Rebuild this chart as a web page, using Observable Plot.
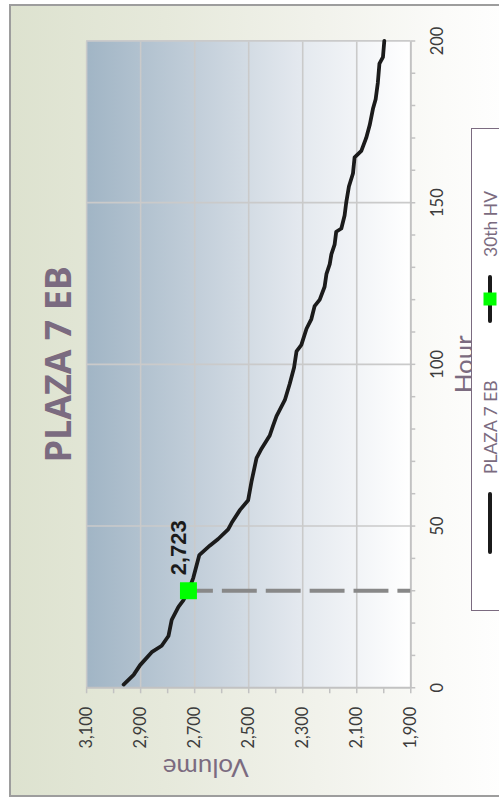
<!DOCTYPE html>
<html>
<head>
<meta charset="utf-8">
<script src="https://cdn.jsdelivr.net/npm/d3@7"></script>
<script src="https://cdn.jsdelivr.net/npm/@observablehq/plot@0.6"></script>
<style>
html,body{margin:0;padding:0;width:499px;height:799px;overflow:hidden;background:#fff;}
#chart{position:absolute;left:9px;top:797px;width:793px;height:515px;box-sizing:border-box;border:2px solid #9d9d9d;
  transform-origin:0 0;transform:rotate(-90deg);
  background:linear-gradient(to bottom,#dde2cf 0%,#e6e9db 30%,#f1f2eb 60%,#fbfbf9 85%,#ffffff 100%);
  font-family:Lato,sans-serif;overflow:hidden;}
#plot{position:absolute;left:-2px;top:-2px;}
#legend{position:absolute;left:184px;top:460px;width:483px;height:80px;box-sizing:border-box;border:1.5px solid #7b6b80;background:#fff;}
.item{position:absolute;top:8px;height:20px;display:flex;align-items:center;font-family:Lato,sans-serif;font-size:17.5px;color:#7b6b80;white-space:nowrap;}
</style>
</head>
<body>
<div id="chart"><div id="plot"></div><div id="legend"></div></div>
<script>
// ---- data ----
const title = "PLAZA 7 EB";
const seriesName = "PLAZA 7 EB";
const markerName = "30th HV";
const xLabel = "Hour";
const yLabel = "Volume";
const hours = [1,4,7,11,13,16,21,25,27,30,34,41,44,46,49,51,55,58,64,71,74,78,81,84,89,94,99,104,106,111,114,118,120,124,128,131,134,137,141,142,146,150,155,159,164,166,170,174,179,182,187,193,195,200];
const volumes = [2963,2926,2902,2859,2822,2797,2785,2760,2742,2723,2705,2683,2643,2613,2576,2563,2532,2502,2489,2471,2452,2422,2410,2397,2366,2348,2332,2323,2305,2286,2268,2256,2237,2219,2212,2200,2194,2182,2176,2157,2145,2139,2129,2114,2108,2083,2065,2052,2040,2030,2022,2016,2003,1998];
const hvHour = [30];
const hvVolume = [2723];
const hourDomain = [0, 200];
const volumeDomain = [1900, 3100];
const hourLabelTicks = [0, 50, 100, 150, 200];
const hourGridTicks = [50, 100, 150, 200];
const hourMinorTicks = [0,10,20,30,40,50,60,70,80,90,100,110,120,130,140,150,160,170,180,190,200];
const volumeLabelTicks = [1900, 2100, 2300, 2500, 2700, 2900, 3100];
const volumeMinorTicks = [1900,2000,2100,2200,2300,2400,2500,2600,2700,2800,2900,3000,3100];

const data = hours.map((h, i) => ({hour: h, volume: volumes[i]}));
const hv = hvHour.map((h, i) => ({hour: h, volume: hvVolume[i]}));
const fmt = d3.format(",");

const axisColor = "#c2c2c2";
const gridColor = "#cacaca";
const labelColor = "#7b6b80";
const tickText = "#3c3c3c";

const plot = Plot.plot({
  width: 793,
  height: 515,
  marginLeft: 109,
  marginRight: 35.5,
  marginTop: 77.3,
  marginBottom: 112.7,
  style: {background: "transparent", fontFamily: "Lato, sans-serif", overflow: "visible"},
  x: {domain: hourDomain},
  y: {domain: volumeDomain},
  marks: [
    Plot.frame({fill: "url(#plotGrad)", stroke: null}),
    Plot.gridY({ticks: volumeLabelTicks, stroke: gridColor, strokeOpacity: 1, strokeWidth: 1.6}),
    Plot.gridX({ticks: hourGridTicks, stroke: gridColor, strokeOpacity: 1, strokeWidth: 1.6}),
    Plot.ruleY([volumeDomain[0]], {stroke: axisColor, strokeWidth: 1.8}),
    Plot.ruleX([hourDomain[0]], {stroke: axisColor, strokeWidth: 1.8}),
    Plot.axisX({ticks: hourMinorTicks, tickSize: 5, tickFormat: () => "", stroke: axisColor, strokeWidth: 1.5, label: null}),
    Plot.axisX({ticks: hourLabelTicks, tickSize: 0, tickPadding: 21, fontSize: 16.5, fill: tickText, label: null}),
    Plot.axisY({ticks: volumeMinorTicks, tickSize: 5, tickFormat: () => "", stroke: axisColor, strokeWidth: 1.5, label: null}),
    Plot.axisY({ticks: volumeLabelTicks, tickSize: 0, tickPadding: 19, tickFormat: fmt, fontSize: 16.5, fill: tickText, label: null}),
    Plot.text([title], {frameAnchor: "top", dy: -27, fontSize: 36, fontWeight: "bold", fontFamily: "Open Sans, sans-serif", fill: labelColor, lineAnchor: "middle"}),
    Plot.text([xLabel], {frameAnchor: "bottom", dy: 54, fontSize: 26, fill: labelColor, lineAnchor: "middle"}),
    Plot.text([yLabel], {frameAnchor: "left", dx: -79.5, rotate: -90, fontSize: 26, fill: labelColor, lineAnchor: "middle"}),
    Plot.ruleX(hv, {x: "hour", y1: "volume", y2: () => volumeDomain[0], stroke: "#888888", strokeWidth: 4, strokeDasharray: "35,9", strokeDashoffset: 10}),
    Plot.line(data, {x: "hour", y: "volume", stroke: "#1b1b1b", strokeWidth: 3.8, strokeLinejoin: "round", strokeLinecap: "round"}),
    Plot.dot(hv, {x: "hour", y: "volume", symbol: "square", r: 9.6, fill: "#00ff00", stroke: null}),
    Plot.text(hv, {x: "hour", y: "volume", text: d => fmt(d.volume), textAnchor: "start", lineAnchor: "middle", dx: 15.5, dy: -9, fontSize: 22, fontWeight: "bold", fontFamily: "Liberation Sans, Arial, sans-serif", fill: "#1b1b1b"})
  ]
});

const defs = d3.select(plot).insert("defs", ":first-child");
const grad = defs.append("linearGradient").attr("id", "plotGrad").attr("x1", 0).attr("y1", 0).attr("x2", 0).attr("y2", 1);
[["0%", "#a1b5c5"], ["35%", "#c3cfda"], ["65%", "#e3e8ee"], ["100%", "#ffffff"]].forEach(([o, c]) =>
  grad.append("stop").attr("offset", o).attr("stop-color", c));

document.getElementById("plot").appendChild(plot);

// legend
const legend = document.getElementById("legend");
function addItem(left, swatchW, withSquare, label) {
  const div = document.createElement("div");
  div.className = "item";
  div.style.left = left + "px";
  const ns = "http://www.w3.org/2000/svg";
  const s = document.createElementNS(ns, "svg");
  s.setAttribute("width", swatchW + 8); s.setAttribute("height", 20);
  s.style.marginRight = "16px";
  const l = document.createElementNS(ns, "line");
  l.setAttribute("x1", 4); l.setAttribute("x2", swatchW + 4); l.setAttribute("y1", 10); l.setAttribute("y2", 10);
  l.setAttribute("stroke", "#1b1b1b"); l.setAttribute("stroke-width", 4); l.setAttribute("stroke-linecap", "round");
  s.appendChild(l);
  if (withSquare) {
    const r = document.createElementNS(ns, "rect");
    r.setAttribute("x", 4 + swatchW / 2 - 6.5); r.setAttribute("y", 3.5); r.setAttribute("width", 13); r.setAttribute("height", 13);
    r.setAttribute("fill", "#00ff00");
    s.appendChild(r);
  }
  div.appendChild(s);
  const t = document.createElement("span");
  t.textContent = label;
  div.appendChild(t);
  legend.appendChild(div);
}
addItem(54, 58, false, seriesName);
addItem(285, 44, true, markerName);
</script>
</body>
</html>
